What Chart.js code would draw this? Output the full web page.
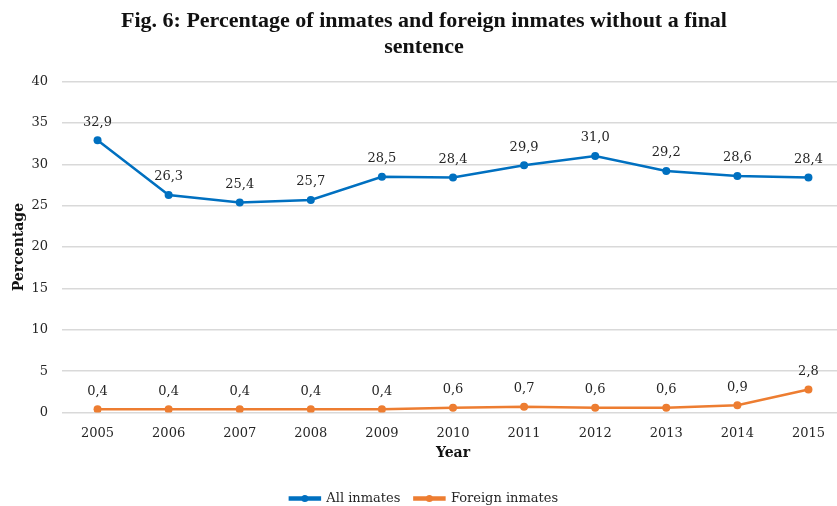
<!DOCTYPE html>
<html>
<head>
<meta charset="utf-8">
<script src="https://cdn.jsdelivr.net/npm/chart.js@4/dist/chart.umd.min.js"></script>
<style>
  html, body { margin: 0; padding: 0; background: #fff; overflow: hidden; }
  #wrap { width: 848px; height: 515px; }
</style>
</head>
<body>
<div id="wrap"><canvas id="chart" width="848" height="515"></canvas></div>
<script>
const years = ["2005", "2006", "2007", "2008", "2009", "2010", "2011", "2012", "2013", "2014", "2015"];
const allInmates = [32.9, 26.3, 25.4, 25.7, 28.5, 28.4, 29.9, 31.0, 29.2, 28.6, 28.4];
const foreignInmates = [0.4, 0.4, 0.4, 0.4, 0.4, 0.6, 0.7, 0.6, 0.6, 0.9, 2.8];
const yTicks = [0, 5, 10, 15, 20, 25, 30, 35, 40];

const BLUE = "#0070c0";
const ORANGE = "#ed7d31";
const TEXT = "#262626";
const SERIF = "'DejaVu Serif', serif";

// value labels above each point, comma decimals
const pointLabels = {
    id: "pointLabels",
    afterDatasetsDraw(chart) {
        const ctx = chart.ctx;
        ctx.save();
        ctx.font = "13px " + SERIF;
        ctx.fillStyle = TEXT;
        ctx.textAlign = "center";
        ctx.textBaseline = "middle";
        chart.data.datasets.forEach((ds, i) => {
            chart.getDatasetMeta(i).data.forEach((pt, j) => {
                const txt = ds.data[j].toFixed(1).replace(".", ",");
                ctx.fillText(txt, pt.x, pt.y - 18);
            });
        });
        ctx.restore();
    }
};

// dot in the middle of each legend line
const legendDots = {
    id: "legendDots",
    afterDraw(chart) {
        const legend = chart.legend;
        if (!legend || !legend.legendHitBoxes) return;
        const ctx = chart.ctx;
        legend.legendHitBoxes.forEach((box, i) => {
            const ds = chart.data.datasets[i];
            ctx.save();
            ctx.fillStyle = ds.borderColor;
            ctx.beginPath();
            ctx.arc(box.left + 15, box.top + box.height / 2, 3.5, 0, Math.PI * 2);
            ctx.fill();
            ctx.restore();
        });
    }
};

new Chart(document.getElementById("chart"), {
    type: "line",
    data: {
        labels: years,
        datasets: [
            {
                label: "All inmates",
                data: allInmates,
                borderColor: BLUE,
                backgroundColor: BLUE,
                borderWidth: 2.5,
                pointRadius: 4,
                pointBackgroundColor: BLUE,
                pointBorderWidth: 0,
                tension: 0
            },
            {
                label: "Foreign inmates",
                data: foreignInmates,
                borderColor: ORANGE,
                backgroundColor: ORANGE,
                borderWidth: 2.5,
                pointRadius: 4,
                pointBackgroundColor: ORANGE,
                pointBorderWidth: 0,
                tension: 0
            }
        ]
    },
    options: {
        responsive: false,
        animation: false,
        layout: { padding: { left: 0, right: 0, top: 0, bottom: 0 } },
        plugins: {
            title: {
                display: true,
                text: ["Fig. 6: Percentage of inmates and foreign inmates without a final", "sentence"],
                color: "#111",
                font: { family: "'Liberation Serif', serif", size: 22, weight: "bold", lineHeight: 1.15 },
                padding: { top: 9, bottom: 22 }
            },
            legend: {
                position: "bottom",
                labels: {
                    color: TEXT,
                    font: { family: SERIF, size: 13 },
                    boxWidth: 30,
                    boxHeight: 2,
                    padding: 14
                }
            },
            tooltip: { enabled: false }
        },
        scales: {
            y: {
                min: 0,
                max: 40,
                afterBuildTicks: axis => { axis.ticks = yTicks.map(v => ({ value: v })); },
                afterFit: axis => { axis.width = 62; },
                grid: { color: "#d9d9d9", lineWidth: 1.5, drawTicks: false },
                border: { display: false },
                ticks: { color: TEXT, font: { family: SERIF, size: 13 }, padding: 14 },
                title: {
                    display: true,
                    text: "Percentage",
                    color: "#111",
                    font: { family: SERIF, size: 14, weight: "bold" },
                    padding: { top: 11, bottom: 3 }
                }
            },
            x: {
                offset: true,
                grid: { display: false, drawTicks: false },
                border: { display: false },
                ticks: { color: TEXT, font: { family: SERIF, size: 13 }, padding: 13, maxRotation: 0 },
                title: {
                    display: true,
                    text: "Year",
                    color: "#111",
                    font: { family: SERIF, size: 14, weight: "bold" },
                    padding: { top: -9, bottom: 16 }
                }
            }
        }
    },
    plugins: [pointLabels, legendDots]
});
</script>
</body>
</html>
